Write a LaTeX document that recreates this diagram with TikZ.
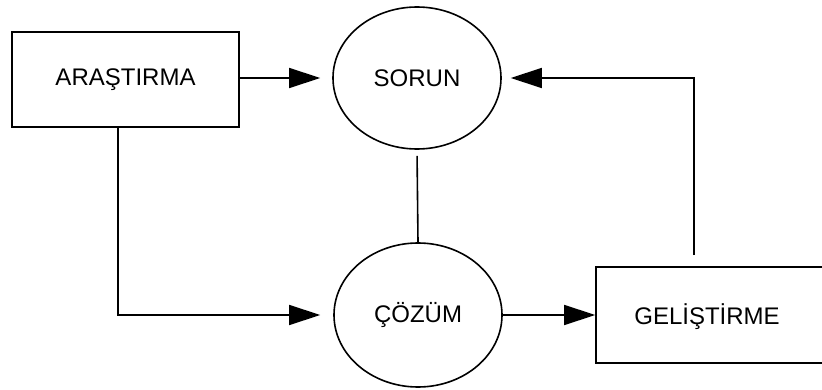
\documentclass[tikz,border=0pt]{standalone}
\usepackage{fontspec}
\setmainfont{Liberation Sans}
\usetikzlibrary{shapes.geometric,arrows.meta}
\begin{document}
\begin{tikzpicture}[x=1pt,y=1pt,
  txt/.style={font=\fontsize{24}{28}\selectfont},
  box/.style={draw,line width=1.6pt,rectangle,inner sep=0pt,txt},
  oval/.style={draw,line width=1.6pt,ellipse,inner sep=0pt,minimum width=168pt,txt},
  conn/.style={line width=1.6pt},
  arr/.style={conn,-{Triangle[length=31pt,width=20pt]}}]
\useasboundingbox (0,0) rectangle (822,-390);
\clip (0,0) rectangle (822,-390);
\node[box,minimum width=227pt,minimum height=95pt] (ar) at (125.5,-79.5) {ARAŞTIRMA};
\node[oval,minimum height=142pt] (so) at (417,-78) {SORUN};
\node[oval,minimum height=144pt] (cz) at (418,-315) {ÇÖZÜM};
\node[box,minimum width=240pt,minimum height=96pt] (ge) at (716,-315) {};
\node[txt] (gt) at (707,-317) {GELİŞTİRME};
\draw[arr,shorten >=12pt] (ar.east |- so.center) -- (so.west);
\draw[arr,shorten >=13pt] ([xshift=-7.5pt]ar.south) |- (cz.west);
\draw[conn,shorten <=6pt] (so.south) -- (cz.north);
\draw[arr] (cz.east) -- (ge.west);
\draw[arr,shorten <=11pt,shorten >=9pt] ([xshift=-22pt]ge.north) |- (so.east);
\end{tikzpicture}
\end{document}
